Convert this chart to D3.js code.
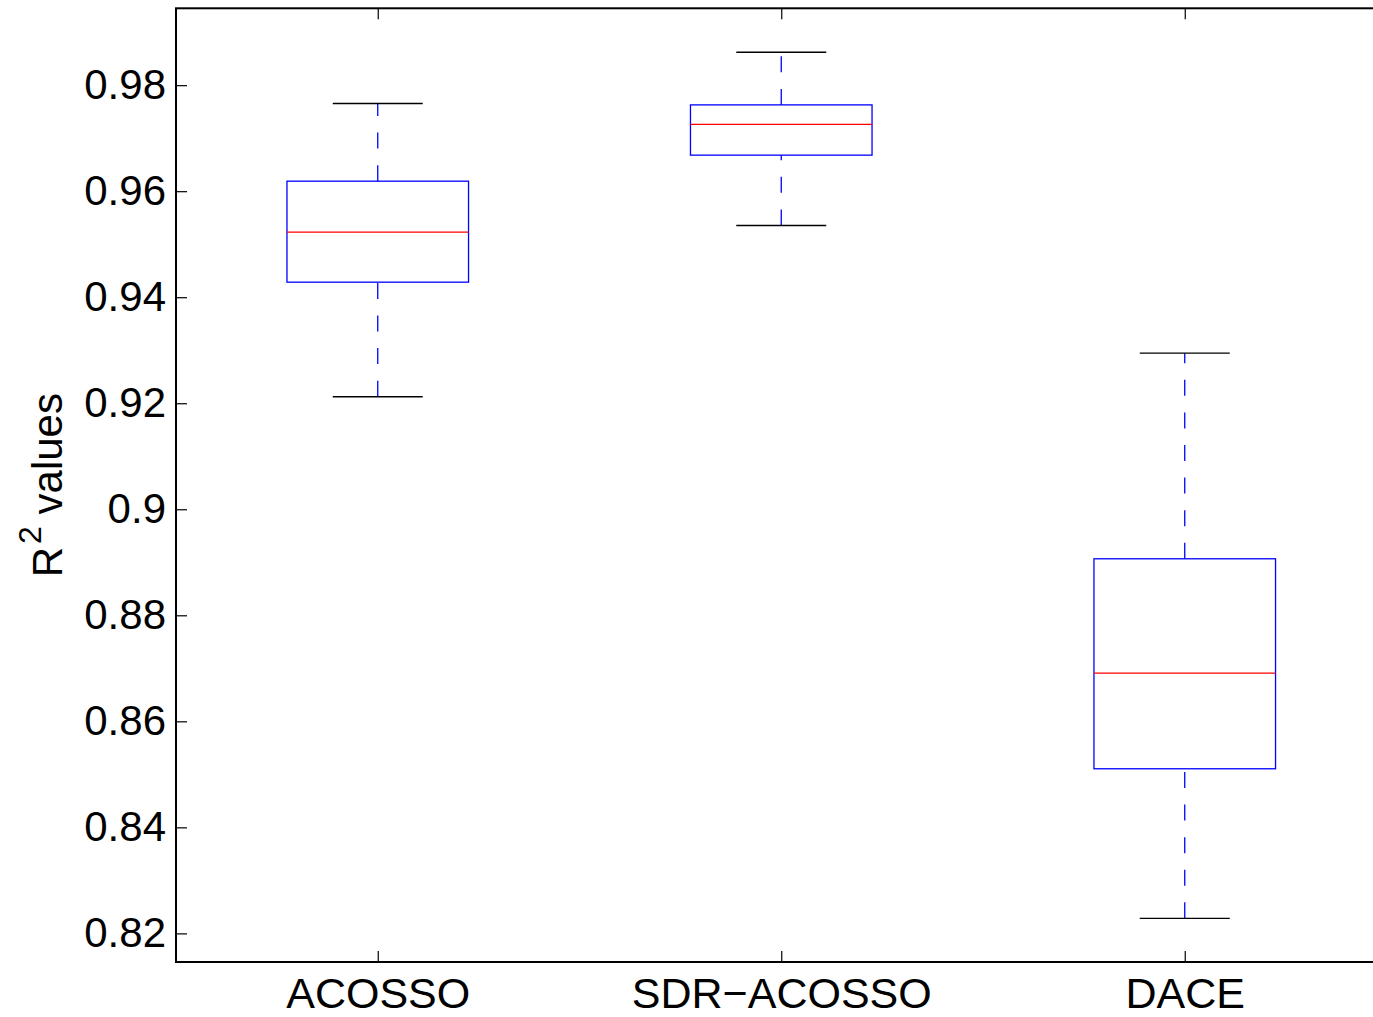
<!DOCTYPE html>
<html>
<head>
<meta charset="utf-8">
<script src="https://cdn.jsdelivr.net/npm/d3@7"></script>
<style>
  html, body { margin: 0; padding: 0; background: #fff; }
  svg { display: block; }
  text { font-family: "Liberation Sans", Arial, Helvetica, sans-serif; fill: #000; }
</style>
</head>
<body>
<script>
// ---- data ----
const categories = ["ACOSSO", "SDR\u2212ACOSSO", "DACE"];
const whiskerLow  = [0.92123, 0.95354, 0.82283];
const q1          = [0.94284, 0.96680, 0.85105];
const medians     = [0.95227, 0.97259, 0.86910];
const q3          = [0.96189, 0.97628, 0.89066];
const whiskerHigh = [0.97655, 0.98622, 0.92945];
const yTicks      = [0.82, 0.84, 0.86, 0.88, 0.9, 0.92, 0.94, 0.96, 0.98];
const yTickLabels = ["0.82", "0.84", "0.86", "0.88", "0.9", "0.92", "0.94", "0.96", "0.98"];

// ---- layout ----
const W = 1373, H = 1017;
const pLeft = 176, pRight = 176 + 3 * 403.5, pTop = 8.3, pBottom = 962;

const svg = d3.select("body").append("svg").attr("width", W).attr("height", H);

const x = d3.scaleLinear().domain([0.5, 3.5]).range([pLeft, pRight]);
const y = d3.scaleLinear().domain([0.8146, 0.9945]).range([pBottom, pTop]);

const boxes = categories.map((c, i) => ({
  c, i: i + 1, lo: whiskerLow[i], q1: q1[i], med: medians[i], q3: q3[i], hi: whiskerHigh[i]
}));

const boxHalf = 0.225, capHalf = 0.1115;

const g = svg.append("g");

boxes.forEach(b => {
  // whiskers (dashed blue), drawn from low value to high value
  g.append("line")
    .attr("x1", x(b.i)).attr("x2", x(b.i))
    .attr("y1", y(b.q3)).attr("y2", y(b.hi))
    .attr("stroke", "#0000ff").attr("stroke-width", 1.3)
    .attr("stroke-dasharray", "16,16.6");
  g.append("line")
    .attr("x1", x(b.i)).attr("x2", x(b.i))
    .attr("y1", y(b.lo)).attr("y2", y(b.q1))
    .attr("stroke", "#0000ff").attr("stroke-width", 1.3)
    .attr("stroke-dasharray", "16,16.6");
  // caps
  [b.lo, b.hi].forEach(v => {
    g.append("line")
      .attr("x1", x(b.i - capHalf)).attr("x2", x(b.i + capHalf))
      .attr("y1", y(v)).attr("y2", y(v))
      .attr("stroke", "#000").attr("stroke-width", 1.4);
  });
  // box
  g.append("rect")
    .attr("x", x(b.i - boxHalf)).attr("width", x(b.i + boxHalf) - x(b.i - boxHalf))
    .attr("y", y(b.q3)).attr("height", y(b.q1) - y(b.q3))
    .attr("fill", "none").attr("stroke", "#0000ff").attr("stroke-width", 1.3);
  // median
  g.append("line")
    .attr("x1", x(b.i - boxHalf)).attr("x2", x(b.i + boxHalf))
    .attr("y1", y(b.med)).attr("y2", y(b.med))
    .attr("stroke", "#ff0000").attr("stroke-width", 1.3);
});

// ---- axes ----
const tickLen = 11;
const fs = 42;

// left axis
const yAxis = d3.axisLeft(y).tickValues(yTicks)
  .tickFormat((d, i) => yTickLabels[i])
  .tickSizeInner(-tickLen).tickSizeOuter(0).tickPadding(10);
const ya = svg.append("g").attr("transform", `translate(${pLeft},0)`).call(yAxis);
ya.select(".domain").remove();
ya.selectAll(".tick line").attr("stroke", "#000").attr("stroke-width", 1.2);
ya.selectAll(".tick text").attr("font-size", fs).attr("font-family", "Liberation Sans, Arial, sans-serif")
  .attr("fill", "#000");

// right axis ticks
const yAxisR = d3.axisRight(y).tickValues(yTicks).tickFormat("").tickSizeInner(-tickLen).tickSizeOuter(0);
const yr = svg.append("g").attr("transform", `translate(${pRight},0)`).call(yAxisR);
yr.select(".domain").remove();
yr.selectAll(".tick line").attr("stroke", "#000").attr("stroke-width", 1.2);

// bottom axis
const xAxis = d3.axisBottom(x).tickValues([1, 2, 3])
  .tickFormat((d, i) => categories[i])
  .tickSizeInner(-tickLen).tickSizeOuter(0).tickPadding(0);
const xa = svg.append("g").attr("transform", `translate(0,${pBottom})`).call(xAxis);
xa.select(".domain").remove();
xa.selectAll(".tick line").attr("stroke", "#000").attr("stroke-width", 1.2);
xa.selectAll(".tick text").attr("font-size", 43).attr("font-family", "Liberation Sans, Arial, sans-serif")
  .attr("fill", "#000").attr("y", 46).attr("dy", "0");

// top axis ticks
const xAxisT = d3.axisTop(x).tickValues([1, 2, 3]).tickFormat("").tickSizeInner(-tickLen).tickSizeOuter(0);
const xt = svg.append("g").attr("transform", `translate(0,${pTop})`).call(xAxisT);
xt.select(".domain").remove();
xt.selectAll(".tick line").attr("stroke", "#000").attr("stroke-width", 1.2);

// frame
svg.append("rect")
  .attr("x", pLeft).attr("y", pTop).attr("width", pRight - pLeft).attr("height", pBottom - pTop)
  .attr("fill", "none").attr("stroke", "#000").attr("stroke-width", 2);

// y label
const yl = svg.append("text")
  .attr("transform", `translate(62,${(pTop + pBottom) / 2}) rotate(-90)`)
  .attr("text-anchor", "middle").attr("font-size", fs);
yl.append("tspan").text("R");
yl.append("tspan").attr("font-size", 32).attr("dy", -21).attr("dx", 3).text("2");
yl.append("tspan").attr("dy", 21).text(" values");
</script>
</body>
</html>
